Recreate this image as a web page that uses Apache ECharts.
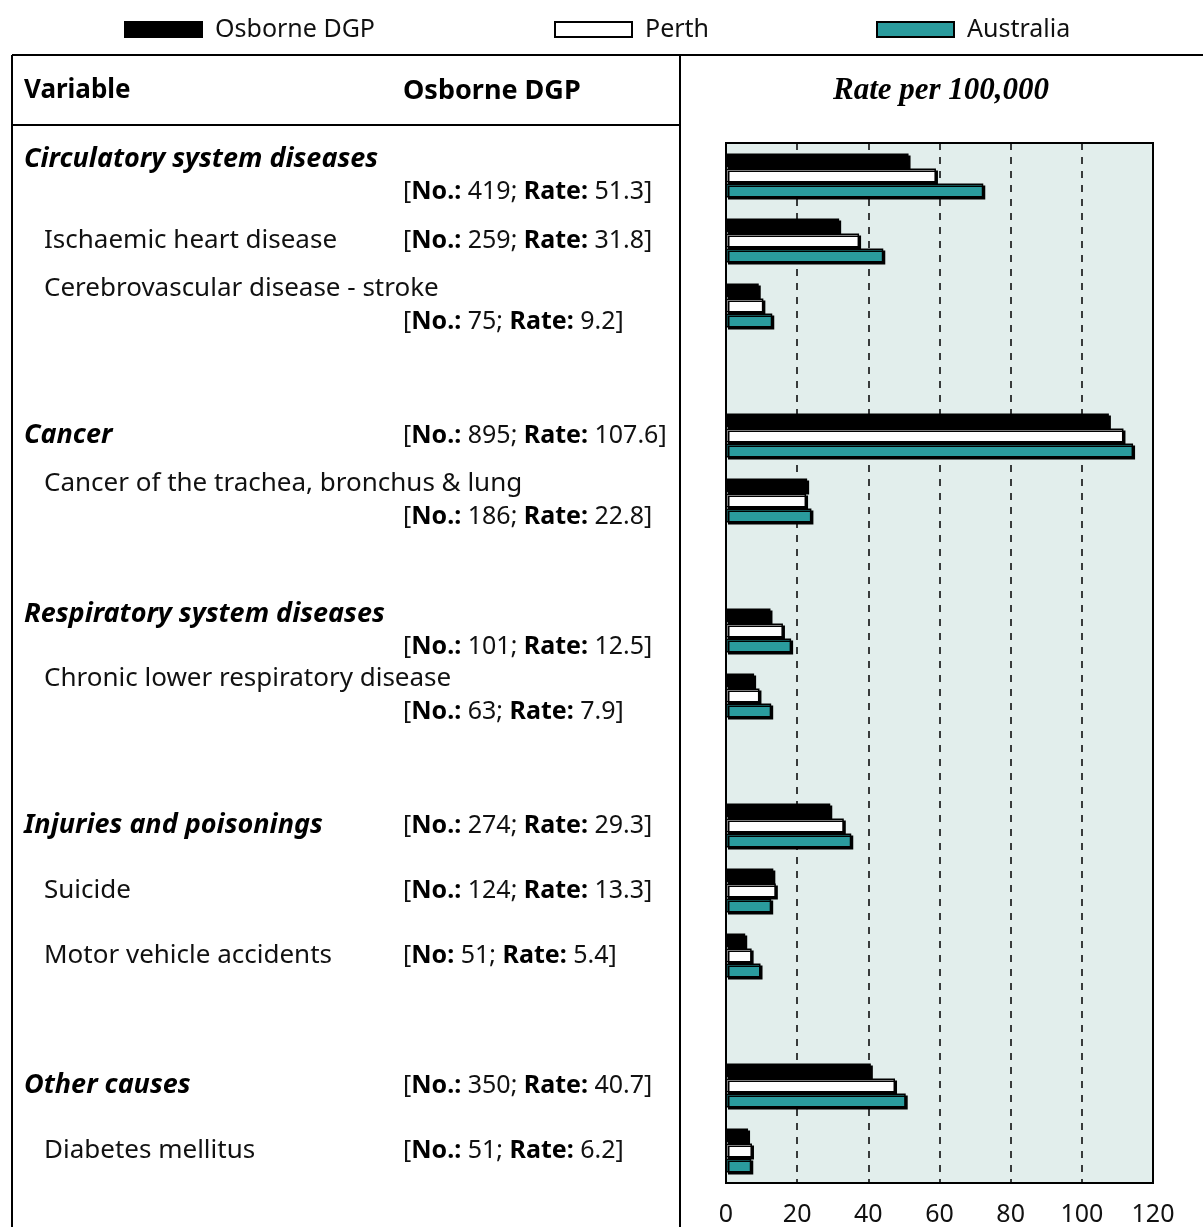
<!DOCTYPE html>
<html>

<head>
    <meta charset=utf-8>
    <title>Death rates - Osborne DGP</title>
    <script src="https://cdn.jsdelivr.net/npm/echarts@6/dist/echarts.min.js"></script>
    <style>
        body { margin: 0; background: #fff; }
    </style>
</head>

<body>
<div id="main" style="width: 1203px;height:1227px;"></div>
</body>
<script type="text/javascript">

    // rows of the table, null = blank spacer row
    var causes = ['Circulatory system diseases', 'Ischaemic heart disease', 'Cerebrovascular disease - stroke', null,
        'Cancer', 'Cancer of the trachea, bronchus & lung', null,
        'Respiratory system diseases', 'Chronic lower respiratory disease', null,
        'Injuries and poisonings', 'Suicide', 'Motor vehicle accidents', null,
        'Other causes', 'Diabetes mellitus'];
    var isHeading = [1, 0, 0, null, 1, 0, null, 1, 0, null, 1, 0, 0, null, 1, 0];
    var wrapStat = [1, 0, 1, null, 0, 1, null, 1, 1, null, 0, 0, 0, null, 0, 0];
    var noTag = ['No.:', 'No.:', 'No.:', null, 'No.:', 'No.:', null, 'No.:', 'No.:', null, 'No.:', 'No.:', 'No:', null, 'No.:', 'No.:'];
    var deaths = [419, 259, 75, null, 895, 186, null, 101, 63, null, 274, 124, 51, null, 350, 51];

    // rate per 100,000
    var osborne = [51.3, 31.8, 9.2, null, 107.6, 22.8, null, 12.5, 7.9, null, 29.3, 13.3, 5.4, null, 40.7, 6.2];
    var perth = [59.0, 37.4, 10.5, null, 111.7, 22.5, null, 16.0, 9.4, null, 33.1, 14.0, 7.2, null, 47.5, 7.3];
    var australia = [72.3, 44.2, 13.0, null, 114.4, 24.0, null, 18.3, 12.7, null, 35.2, 12.7, 9.7, null, 50.5, 7.1];

    var xTicks = [0, 20, 40, 60, 80, 100, 120];

    var FONT = 'Noto Sans';
    var rowKeys = causes.map(function (c, i) { return 'row' + i; });

    function statText(i) {
        return '{v|[}{b|' + noTag[i] + '}{v| ' + deaths[i] + '; }{b|Rate:}{v| ' + osborne[i] + ']}';
    }

    function rowLabel(value, i) {
        if (causes[i] == null) return '';
        var name;
        if (isHeading[i]) {
            name = '{' + (wrapStat[i] ? 'h' : 'hw') + '|' + causes[i] + '}';
        } else {
            name = '{s| }{' + (wrapStat[i] ? 'n' : 'nw') + '|' + causes[i] + '}';
        }
        if (wrapStat[i]) return name + '\n{pad| }' + statText(i);
        return name + statText(i);
    }

    var barStyle = function (color) {
        return {
            color: color,
            borderColor: '#000',
            borderWidth: 1.5,
            shadowColor: '#000',
            shadowBlur: 0,
            shadowOffsetX: 2,
            shadowOffsetY: 2
        };
    };

    var legendText = { fontFamily: FONT, fontSize: 25, color: '#111', padding: [0, 0, 0, 8] };
    var legendBase = { top: 17, padding: 0, icon: 'rect', itemWidth: 77, itemHeight: 15 };

    var myChart = echarts.init(document.getElementById('main'));

    var option = {
        backgroundColor: '#fff',
        animation: false,
        legend: [
            Object.assign({ left: 124, data: ['Osborne DGP'], textStyle: legendText }, legendBase),
            Object.assign({ left: 554, data: ['Perth'], textStyle: legendText }, legendBase),
            Object.assign({ left: 876, data: ['Australia'], textStyle: legendText }, legendBase)
        ],
        grid: {
            left: 726,
            right: 50,
            top: 143,
            bottom: 44,
            show: true,
            backgroundColor: '#e2eeec',
            borderColor: '#000',
            borderWidth: 2
        },
        xAxis: {
            type: 'value',
            min: xTicks[0],
            max: xTicks[xTicks.length - 1],
            interval: 20,
            axisLine: { show: false },
            axisTick: { show: false },
            axisLabel: { fontFamily: FONT, fontSize: 25, color: '#111', margin: 19 },
            splitLine: { show: true, lineStyle: { color: '#000', width: 1.5, type: [7, 7] } }
        },
        yAxis: {
            type: 'category',
            inverse: true,
            data: rowKeys,
            axisLine: { show: false },
            axisTick: { show: false },
            axisLabel: {
                interval: 0,
                align: 'left',
                margin: 702,
                formatter: rowLabel,
                rich: {
                    h: { fontFamily: FONT, fontSize: 27, fontWeight: 'bold', fontStyle: 'italic', color: '#000', lineHeight: 33 },
                    hw: { fontFamily: FONT, fontSize: 27, fontWeight: 'bold', fontStyle: 'italic', color: '#000', lineHeight: 33, width: 379 },
                    s: { fontSize: 10, width: 20, lineHeight: 33 },
                    n: { fontFamily: FONT, fontSize: 26, color: '#111', lineHeight: 33 },
                    nw: { fontFamily: FONT, fontSize: 26, color: '#111', lineHeight: 33, width: 359 },
                    pad: { fontSize: 10, width: 379, lineHeight: 33 },
                    v: { fontFamily: FONT, fontSize: 25, color: '#111', lineHeight: 33 },
                    b: { fontFamily: FONT, fontSize: 25, fontWeight: 'bold', color: '#000', lineHeight: 33 }
                }
            }
        },
        graphic: [
            // table frame
            { type: 'line', shape: { x1: 12, y1: 55, x2: 1203, y2: 55 }, style: { stroke: '#000', lineWidth: 2 } },
            { type: 'line', shape: { x1: 12, y1: 55, x2: 12, y2: 1227 }, style: { stroke: '#000', lineWidth: 2 } },
            { type: 'line', shape: { x1: 680, y1: 55, x2: 680, y2: 1227 }, style: { stroke: '#000', lineWidth: 2 } },
            { type: 'line', shape: { x1: 12, y1: 125, x2: 680, y2: 125 }, style: { stroke: '#000', lineWidth: 2 } },
            // header
            { type: 'text', left: 24, top: 78, style: { text: 'Variable', font: 'bold 26px "Noto Sans"', fill: '#000' } },
            { type: 'text', left: 403, top: 78, style: { text: 'Osborne DGP', font: 'bold 27px "Noto Sans"', fill: '#000' } },
            { type: 'text', left: 833, top: 75, style: { text: 'Rate per 100,000', font: 'italic bold 31px "Liberation Serif"', fill: '#000' } }
        ],
        series: [
            { name: 'Osborne DGP', type: 'bar', data: osborne, barWidth: 14, barGap: '8%', itemStyle: barStyle('#000') },
            { name: 'Perth', type: 'bar', data: perth, barWidth: 14, barGap: '8%', itemStyle: barStyle('#fff') },
            { name: 'Australia', type: 'bar', data: australia, barWidth: 14, barGap: '8%', itemStyle: barStyle('#2a9b9d') }
        ]
    };

    myChart.setOption(option);

</script>
</html>
